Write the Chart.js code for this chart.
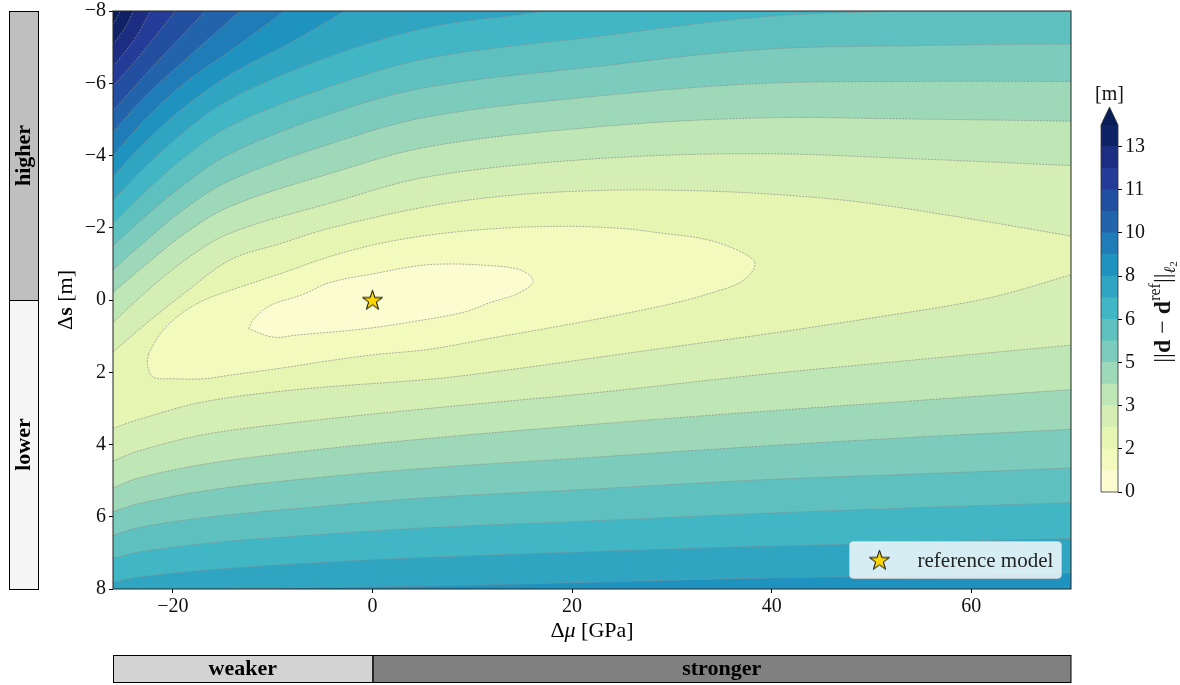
<!DOCTYPE html>
<html>
<head>
<meta charset="utf-8">
<script src="https://cdn.jsdelivr.net/npm/chart.js@4.4.1/dist/chart.umd.min.js"></script>
<style>
  html, body { margin: 0; padding: 0; background: #fff; }
  #wrap { position: relative; width: 1180px; height: 685px; }
  #main { position: absolute; left: 0; top: 0; }
  #cbar { position: absolute; left: 1085px; top: 80px; }
</style>
</head>
<body>
<div id="wrap">
  <canvas id="main" width="1180" height="685"></canvas>
  <canvas id="cbar" width="95" height="430"></canvas>
</div>
<script>
// axis ticks
const muTicks = [-20, 0, 20, 40, 60];
const sTicks = [-8, -6, -4, -2, 0, 2, 4, 6, 8];

// contour levels of the misfit [m] and colorbar ticks
const levels = [0, 0.8125, 1.625, 2.4375, 3.25, 4.0625, 4.875, 5.6875, 6.5, 7.3125,
                8.125, 8.9375, 9.75, 10.5625, 11.375, 12.1875, 13, 13.8125];
const cbTicks = [0, 1.625, 3.25, 4.875, 6.5, 8.125, 9.75, 11.375, 13];
const cbLabels = ['0', '2', '3', '5', '6', '8', '10', '11', '13'];

// reference model
const refModel = [{x: 0, y: 0}];

// contour lines, [dmu, ds]
const c1 = [[-12.4,0.80],[-11.9,0.53],[-10.3,0.16],[-7,-0.15],[-4.3,-0.48],[0,-0.72],[5.8,-0.98],[12.4,-0.94],
  [15.1,-0.80],[16.1,-0.50],[14.4,-0.16],[12,0.05],[9.1,0.34],[4,0.6],[-0.9,0.80],[-7.6,0.97],[-9.9,1.03],[-12.4,0.80]];
const c2 = [[-22.45,1.5],[-21.3,0.95],[-19.5,0.45],[-17,0.02],[-14.3,-0.26],[-9,-0.75],[-4.3,-1.2],[0.5,-1.55],
  [5.8,-1.8],[12,-1.97],[19,-2.04],[25,-1.98],[29,-1.85],[33,-1.7],[36,-1.45],[38.2,-1.1],[38.2,-0.85],[36.8,-0.48],
  [34,-0.2],[30.5,0.07],[24.5,0.42],[18.8,0.72],[12,1.05],[5.8,1.36],[0,1.52],[-4.3,1.68],[-9,1.88],[-14.3,2.08],
  [-16.8,2.18],[-20,2.18],[-22,2.13],[-22.55,1.77],[-22.45,1.5]];
const c3Up = [[-26,1.44],[-22.75,0.67],[-18.75,-0.21],[-14.25,-1.11],[-9,-1.58],[-4.25,-1.99],[5.75,-2.6],[14,-2.9],
  [22.45,-3.03],[30,-3.04],[38.75,-2.95],[48.25,-2.73],[58.25,-2.32],[70,-1.77]];
const c3Lo = [[-26,3.55],[-23.45,3.31],[-16.75,2.81],[-6.75,2.46],[6.25,2.18],[14,1.92],[22.3,1.6],[30,1.3],
  [38.75,0.97],[50,0.5],[59.55,0.07],[64,-0.21],[70,-0.70]];
const c4Up = [[-26,0.62],[-22.75,-0.21],[-18.75,-1.11],[-14.25,-1.85],[-4.25,-2.68],[5.75,-3.42],[22.45,-3.91],
  [38.75,-4.05],[54.25,-3.91],[70,-3.72]];
const c4Lo = [[-26,4.46],[-23.45,4.18],[-16.75,3.72],[-6.75,3.36],[5.75,3.0],[22.25,2.57],[38.75,2.07],[54.25,1.66],[70,1.25]];
const c5Up = [[-26,-0.21],[-22.75,-0.97],[-18.75,-1.85],[-14.25,-2.59],[-4.25,-3.5],[5.75,-4.25],[22.45,-4.79],
  [38.75,-5.04],[54.25,-5.01],[70,-4.95]];
const c5Lo = [[-26,5.2],[-23.45,4.93],[-16.75,4.54],[-6.75,4.18],[5.75,3.83],[22.25,3.44],[38.75,3.09],[54.25,2.79],[70,2.48]];
const c6Up = [[-26,-0.84],[-22.75,-1.63],[-18.75,-2.54],[-14.25,-3.31],[-4.25,-4.32],[5.75,-5.08],[22.45,-5.64],
  [38.75,-5.99],[54.25,-6.05],[70,-6.05]];
const c6Lo = [[-26,5.86],[-23.45,5.64],[-16.75,5.28],[-6.75,4.95],[5.75,4.65],[22.25,4.35],[38.75,4.05],[54.25,3.8],[70,3.58]];
const c7Up = [[-26,-1.5],[-22.75,-2.32],[-18.75,-3.22],[-14.25,-4.05],[-4.25,-5.15],[5.75,-5.9],[22.45,-6.46],
  [38.75,-6.93],[54.25,-7.04],[70,-7.09]];
const c7Lo = [[-26,6.52],[-23.45,6.3],[-16.75,6.02],[-6.75,5.75],[5.75,5.47],[22.25,5.23],[38.75,4.98],[54.25,4.82],[70,4.65]];
const c8Up = [[-26,-2.13],[-22.75,-3.0],[-18.75,-3.97],[-14.25,-4.82],[-4.25,-5.91],[5.75,-6.7],[22.45,-7.29],
  [38.75,-7.83],[52.25,-8]];
const c8Lo = [[-26,7.15],[-23.45,6.98],[-16.75,6.74],[-6.75,6.52],[5.75,6.3],[22.25,6.11],[38.75,5.91],[54.25,5.75],[70,5.61]];
const c9Up = [[-26,-2.76],[-22.75,-3.69],[-18.75,-4.68],[-14.25,-5.56],[-4.25,-6.74],[5.75,-7.55],[15.75,-7.93],[17.25,-8]];
const c9Lo = [[-26,7.81],[-23.45,7.67],[-16.75,7.48],[-6.75,7.29],[5.75,7.12],[22.25,6.96],[38.75,6.82],[54.25,6.71],[70,6.6]];
const c10Up = [[-26,-3.42],[-22.75,-4.38],[-18.75,-5.36],[-14.25,-6.24],[-8.25,-7.12],[-2.75,-8]];
const c10Lo = [[-14.25,8],[-6.75,7.97],[5.75,7.92],[22.25,7.81],[38.75,7.7],[54.25,7.64],[70,7.56]];
const c11Up = [[-26,-3.99],[-22.75,-5.01],[-18.75,-6.02],[-14.25,-6.9],[-8.75,-8]];
const c12Up = [[-26,-4.65],[-22.75,-5.64],[-18.75,-6.65],[-13.25,-8]];
const c13Up = [[-26,-5.23],[-22.75,-6.24],[-19.75,-7.12],[-16.75,-8]];
const c14Up = [[-26,-5.91],[-23.25,-6.79],[-19.75,-8]];
const c15Up = [[-26,-6.46],[-23.75,-7.26],[-22.25,-8]];
const c16Up = [[-26,-7.07],[-24.75,-7.56],[-23.95,-8]];
const c17Up = [[-26,-7.62],[-25.25,-8]];

const contours = [
  {loop: c1}, {loop: c2},
  {upper: c3Up, lower: c3Lo}, {upper: c4Up, lower: c4Lo}, {upper: c5Up, lower: c5Lo},
  {upper: c6Up, lower: c6Lo}, {upper: c7Up, lower: c7Lo}, {upper: c8Up, lower: c8Lo},
  {upper: c9Up, lower: c9Lo}, {upper: c10Up, lower: c10Lo},
  {upper: c11Up}, {upper: c12Up}, {upper: c13Up}, {upper: c14Up}, {upper: c15Up}, {upper: c16Up}, {upper: c17Up}
];

// YlGnBu
const ylgnbu = ['#ffffd9','#edf8b1','#c7e9b4','#7fcdbb','#41b6c4','#1d91c0','#225ea8','#253494','#081d58'];
function cmap(t) {
  t = Math.min(1, Math.max(0, t));
  const p = t * (ylgnbu.length - 1), i = Math.min(Math.floor(p), ylgnbu.length - 2), f = p - i;
  const a = ylgnbu[i], b = ylgnbu[i + 1];
  const ch = (h, k) => parseInt(h.substr(1 + 2 * k, 2), 16);
  const c = [0, 1, 2].map(k => Math.round(ch(a, k) + (ch(b, k) - ch(a, k)) * f));
  return 'rgb(' + c.join(',') + ')';
}
const vmax = levels[levels.length - 1];
const bandColors = levels.slice(0, -1).map((lo, i) => cmap((lo + levels[i + 1]) / 2 / vmax));
const overColor = cmap(1);

const serif = "'Liberation Serif', 'DejaVu Serif', serif";
const fs = 20;

// star marker
function makeStar(r) {
  const c = document.createElement('canvas');
  const s = Math.ceil(2 * r + 4);
  c.width = c.height = s;
  const g = c.getContext('2d');
  g.translate(s / 2, s / 2 + 0.8);
  g.beginPath();
  for (let i = 0; i < 10; i++) {
    const rr = i % 2 ? r * 0.382 : r;
    const ang = -Math.PI / 2 + i * Math.PI / 5;
    g.lineTo(rr * Math.cos(ang), rr * Math.sin(ang));
  }
  g.closePath();
  g.fillStyle = '#ffd700';
  g.fill();
  g.lineWidth = 1;
  g.strokeStyle = '#000';
  g.stroke();
  return c;
}
const star = makeStar(10.5);

// walking around the plot frame to close contour regions
function perim(p, b) {
  const W = b.x1 - b.x0, H = b.y1 - b.y0, e = 1e-6;
  if (Math.abs(p[1] - b.y0) < e) return p[0] - b.x0;
  if (Math.abs(p[0] - b.x1) < e) return W + (p[1] - b.y0);
  if (Math.abs(p[1] - b.y1) < e) return W + H + (b.x1 - p[0]);
  return 2 * W + H + (b.y1 - p[1]);
}
function walk(from, to, b) {
  const W = b.x1 - b.x0, H = b.y1 - b.y0, P = 2 * (W + H);
  const ta = perim(from, b);
  let tb = perim(to, b);
  if (tb < ta) tb += P;
  const corners = [[0, [b.x0, b.y0]], [W, [b.x1, b.y0]], [W + H, [b.x1, b.y1]], [2 * W + H, [b.x0, b.y1]]];
  const out = [];
  for (const off of [0, P]) for (const [t, pt] of corners) if (t + off > ta && t + off < tb) out.push(pt);
  return out;
}

// follow the drawn (smoothed) line elements of a dataset
function trace(ctx, els, rev, move) {
  const seq = rev ? els.slice().reverse() : els;
  seq.forEach((p, i) => {
    if (i === 0) {
      if (move) ctx.moveTo(p.x, p.y); else ctx.lineTo(p.x, p.y);
      return;
    }
    const q = seq[i - 1];
    ctx.bezierCurveTo(rev ? q.cp1x : q.cp2x, rev ? q.cp1y : q.cp2y,
                      rev ? p.cp2x : p.cp1x, rev ? p.cp2y : p.cp1y, p.x, p.y);
  });
}

const contourFill = {
  id: 'contourFill',
  beforeDatasetsDraw(chart) {
    const {ctx, chartArea: a, scales: {x, y}} = chart;
    const b = {x0: x.min, x1: x.max, y0: y.min, y1: y.max};
    const els = i => {
      const meta = chart.getDatasetMeta(i);
      meta.dataset.updateControlPoints(a, 'x');
      return meta.data;
    };
    const edge = p => ctx.lineTo(x.getPixelForValue(p[0]), y.getPixelForValue(p[1]));
    ctx.save();
    ctx.beginPath();
    ctx.rect(a.left, a.top, a.width, a.height);
    ctx.clip();
    ctx.fillStyle = overColor;
    ctx.fillRect(a.left, a.top, a.width, a.height);
    for (let k = contours.length - 1; k >= 0; k--) {
      const c = contours[k];
      ctx.beginPath();
      if (c.loop) {
        trace(ctx, els(c.iLoop), false, true);
      } else {
        const up = c.upper;
        trace(ctx, els(c.iUp), false, true);
        if (c.lower) {
          const lo = c.lower;
          walk(up[up.length - 1], lo[lo.length - 1], b).forEach(edge);
          trace(ctx, els(c.iLo), true, false);
          walk(lo[0], up[0], b).forEach(edge);
        } else {
          walk(up[up.length - 1], up[0], b).forEach(edge);
        }
      }
      ctx.closePath();
      ctx.fillStyle = bandColors[k];
      ctx.fill();
    }
    ctx.restore();
  }
};

function drawRuns(ctx, runs, x, y) {
  let w = 0;
  runs.forEach(r => { ctx.font = r.f; r.w = ctx.measureText(r.t).width; w += r.w; });
  let cx = x - w / 2;
  ctx.textAlign = 'left';
  runs.forEach(r => { ctx.font = r.f; ctx.fillText(r.t, cx, y + (r.dy || 0)); cx += r.w; });
}

const decorations = {
  id: 'decorations',
  afterDraw(chart) {
    const {ctx, chartArea: a, scales: {x, y}} = chart;
    ctx.save();
    // frame
    ctx.strokeStyle = '#222';
    ctx.lineWidth = 1;
    ctx.strokeRect(a.left, a.top, a.width, a.height);

    const bold = 'bold 22px ' + serif;
    // higher / lower bar
    const y0 = y.getPixelForValue(0);
    ctx.fillStyle = '#bfbfbf';
    ctx.fillRect(9, a.top, 29, y0 - a.top);
    ctx.fillStyle = '#f5f5f5';
    ctx.fillRect(9, y0, 29, a.bottom - y0);
    ctx.strokeStyle = '#000';
    ctx.strokeRect(9.5, a.top + 0.5, 29, y0 - a.top);
    ctx.strokeRect(9.5, y0 + 0.5, 29, a.bottom - y0);
    ctx.fillStyle = '#000';
    ctx.font = bold;
    ctx.textAlign = 'center';
    ctx.textBaseline = 'middle';
    [['higher', (a.top + y0) / 2], ['lower', (y0 + a.bottom) / 2]].forEach(([t, cy]) => {
      ctx.save();
      ctx.translate(24, cy);
      ctx.rotate(-Math.PI / 2);
      ctx.fillText(t, 0, 0);
      ctx.restore();
    });

    // weaker / stronger bar
    const x0 = x.getPixelForValue(0);
    ctx.fillStyle = '#d3d3d3';
    ctx.fillRect(a.left, 655, x0 - a.left, 27);
    ctx.fillStyle = '#808080';
    ctx.fillRect(x0, 655, a.right - x0, 27);
    ctx.strokeStyle = '#000';
    ctx.strokeRect(a.left + 0.5, 655.5, x0 - a.left, 27);
    ctx.strokeRect(x0 + 0.5, 655.5, a.right - x0 - 0.5, 27);
    ctx.fillStyle = '#000';
    ctx.fillText('weaker', (a.left + x0) / 2, 669);
    ctx.fillText('stronger', (x0 + a.right) / 2, 669);

    // axis titles
    ctx.textBaseline = 'middle';
    const reg = '22px ' + serif;
    drawRuns(ctx, [{t: 'Δ', f: reg}, {t: 'μ', f: 'italic ' + reg}, {t: ' [GPa]', f: reg}], (a.left + a.right) / 2, 631);
    ctx.save();
    ctx.translate(66, (a.top + a.bottom) / 2);
    ctx.rotate(-Math.PI / 2);
    drawRuns(ctx, [{t: 'Δ', f: reg}, {t: 's', f: 'bold ' + reg}, {t: ' [m]', f: reg}], 0, 0);
    ctx.restore();

    // legend
    const bx = a.right - 221.5, by = a.bottom - 47.5, bw = 212, bh = 37;
    ctx.beginPath();
    ctx.roundRect(bx, by, bw, bh, 4);
    ctx.fillStyle = 'rgba(255,255,255,0.8)';
    ctx.fill();
    ctx.strokeStyle = 'rgba(204,204,204,0.8)';
    ctx.lineWidth = 1;
    ctx.stroke();
    ctx.drawImage(star, bx + 30 - star.width / 2, by + bh / 2 - star.height / 2);
    ctx.fillStyle = '#222';
    ctx.font = '21px ' + serif;
    ctx.textAlign = 'left';
    ctx.fillText('reference model', bx + 68, by + bh / 2 + 1);
    ctx.restore();
  }
};

const tickFont = {family: serif, size: fs};
const minus = v => (v < 0 ? '\u2212' + Math.abs(v) : String(v));

const lineSets = [];
const lineSet = pts => {
  lineSets.push({
    data: pts.map(p => ({x: p[0], y: p[1]})),
    showLine: true,
    tension: 0.35,
    borderColor: 'rgba(140,140,140,0.85)',
    borderWidth: 0.8,
    borderDash: [2, 1.2],
    pointRadius: 0,
    fill: false,
    order: 1
  });
  return lineSets.length; // index after the star dataset
};
contours.forEach(c => {
  if (c.loop) c.iLoop = lineSet(c.loop);
  if (c.upper) c.iUp = lineSet(c.upper);
  if (c.lower) c.iLo = lineSet(c.lower);
});

new Chart(document.getElementById('main'), {
  type: 'scatter',
  data: {
    datasets: [{
      data: refModel,
      pointStyle: star,
      pointRadius: 10,
      order: 0
    }].concat(lineSets)
  },
  options: {
    responsive: false,
    animation: false,
    events: [],
    layout: {padding: {left: 40, right: 109, top: 6, bottom: 0}},
    plugins: {legend: {display: false}, tooltip: {enabled: false}},
    scales: {
      x: {
        type: 'linear', min: -26, max: 70,
        afterBuildTicks: s => { s.ticks = muTicks.map(v => ({value: v})); },
        afterFit: s => { s.height = 96; s.paddingLeft = 0; s.paddingRight = 0; },
        ticks: {callback: minus, font: tickFont, color: '#111', padding: 2, maxRotation: 0, autoSkip: false},
        grid: {drawOnChartArea: false, tickLength: 4, tickColor: '#000'},
        border: {display: false}
      },
      y: {
        type: 'linear', reverse: true, min: -8, max: 8,
        afterBuildTicks: s => { s.ticks = sTicks.map(v => ({value: v})); },
        afterFit: s => { s.width = 73; s.paddingTop = 0; s.paddingBottom = 0; },
        ticks: {callback: minus, font: tickFont, color: '#111', padding: 3, autoSkip: false},
        grid: {drawOnChartArea: false, tickLength: 4, tickColor: '#000'},
        border: {display: false}
      }
    }
  },
  plugins: [contourFill, decorations]
});

// colorbar
const cbarDecor = {
  id: 'cbarDecor',
  afterDraw(chart) {
    const {ctx, chartArea: a} = chart;
    ctx.save();
    const cx = (a.left + a.right) / 2, tip = a.top - 18;
    ctx.beginPath();
    ctx.moveTo(a.left, a.top);
    ctx.lineTo(cx, tip);
    ctx.lineTo(a.right, a.top);
    ctx.closePath();
    ctx.fillStyle = overColor;
    ctx.fill();
    ctx.beginPath();
    ctx.moveTo(a.left, a.bottom);
    ctx.lineTo(a.left, a.top);
    ctx.lineTo(cx, tip);
    ctx.lineTo(a.right, a.top);
    ctx.lineTo(a.right, a.bottom);
    ctx.closePath();
    ctx.strokeStyle = '#333';
    ctx.lineWidth = 0.8;
    ctx.stroke();
    ctx.fillStyle = '#111';
    ctx.textBaseline = 'middle';
    ctx.textAlign = 'center';
    ctx.font = fs + 'px ' + serif;
    ctx.fillText('[m]', cx, 15);
    const reg = '24px ' + serif;
    ctx.translate(77, 232);
    ctx.rotate(-Math.PI / 2);
    ctx.textBaseline = 'alphabetic';
    drawRuns(ctx, [
      {t: '||', f: reg}, {t: 'd', f: 'bold ' + reg}, {t: ' \u2212 ', f: reg}, {t: 'd', f: 'bold ' + reg},
      {t: 'ref', f: '16px ' + serif, dy: -10}, {t: '||', f: reg},
      {t: 'ℓ', f: 'italic 16px ' + serif, dy: 5}, {t: '2', f: '11px ' + serif, dy: 7}
    ], 0, 8);
    ctx.restore();
  }
};

new Chart(document.getElementById('cbar'), {
  type: 'bar',
  data: {
    labels: [''],
    datasets: bandColors.map((c, i) => ({
      data: [[levels[i], levels[i + 1]]],
      backgroundColor: c,
      borderWidth: 0,
      barPercentage: 1,
      categoryPercentage: 1,
      grouped: false
    }))
  },
  options: {
    responsive: false,
    animation: false,
    events: [],
    layout: {padding: {left: 16, top: 45, bottom: 18, right: 0}},
    plugins: {legend: {display: false}, tooltip: {enabled: false}},
    scales: {
      x: {display: false},
      y: {
        position: 'right', min: levels[0], max: vmax,
        afterBuildTicks: s => { s.ticks = cbTicks.map(v => ({value: v})); },
        afterFit: s => { s.width = 62; s.paddingTop = 0; s.paddingBottom = 0; },
        ticks: {callback: (v, i) => cbLabels[i], font: tickFont, color: '#111', padding: 3, autoSkip: false},
        grid: {drawOnChartArea: false, tickLength: 4, tickColor: '#000'},
        border: {display: false}
      }
    }
  },
  plugins: [cbarDecor]
});
</script>
</body>
</html>
